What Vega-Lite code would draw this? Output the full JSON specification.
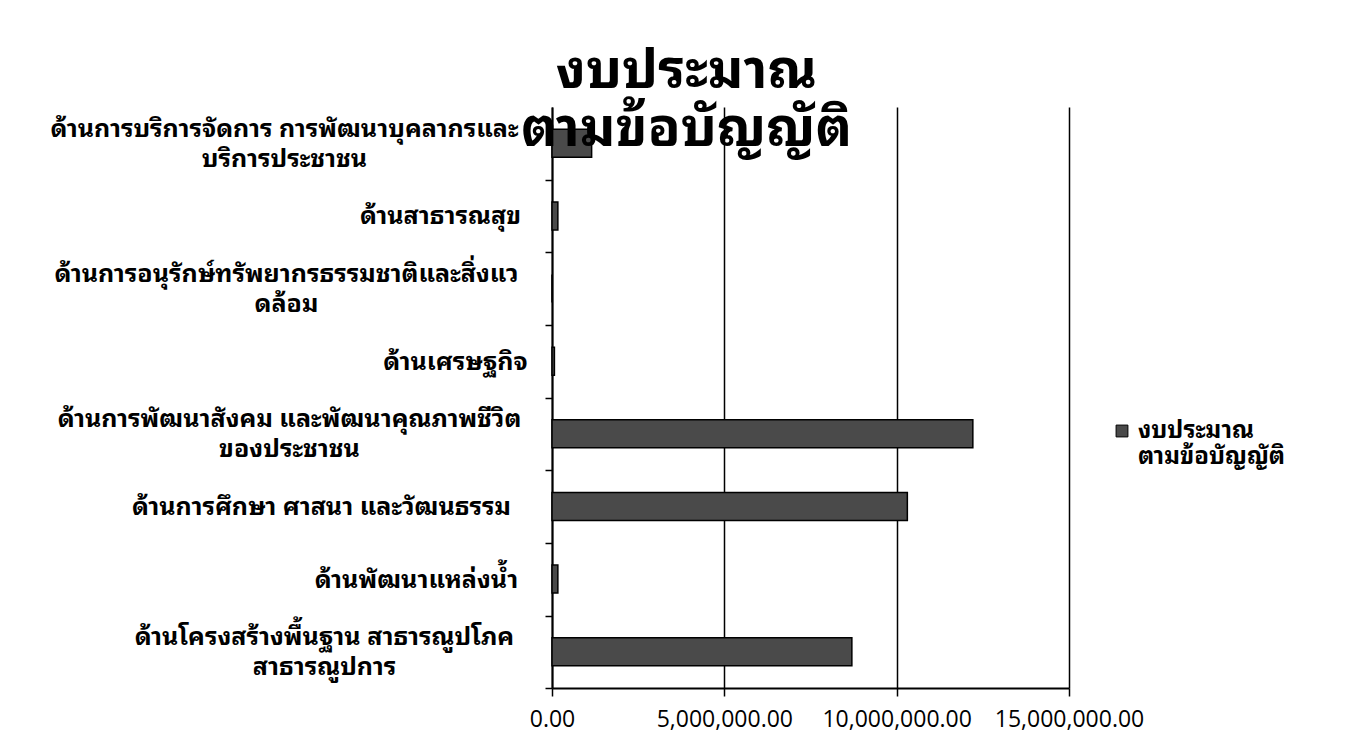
{
  "$schema": "https://vega.github.io/schema/vega-lite/v6.json",
  "width": 517,
  "height": 581,
  "autosize": "none",
  "padding": {"left": 552, "top": 107, "right": 301, "bottom": 54},
  "background": "white",
  "title": {
    "text": ["งบประมาณ", "ตามข้อบัญญัติ"],
    "font": "'Noto Sans Thai Looped', Tahoma, 'Noto Sans Thai', 'DejaVu Sans', sans-serif",
    "fontSize": 54,
    "fontWeight": "bold",
    "lineHeight": 58,
    "color": "black",
    "anchor": "middle",
    "frame": "group",
    "dx": -124,
    "offset": -50
  },
  "data": {
    "values": [
      {"category": "ด้านการบริการจัดการ การพัฒนาบุคลากรและ\nบริการประชาชน", "series": "งบประมาณตามข้อบัญญัติ", "budget": 1150000},
      {"category": "ด้านสาธารณสุข", "series": "งบประมาณตามข้อบัญญัติ", "budget": 170000},
      {"category": "ด้านการอนุรักษ์ทรัพยากรธรรมชาติและสิ่งแว\nดล้อม", "series": "งบประมาณตามข้อบัญญัติ", "budget": 0},
      {"category": "ด้านเศรษฐกิจ", "series": "งบประมาณตามข้อบัญญัติ", "budget": 70000},
      {"category": "ด้านการพัฒนาสังคม  และพัฒนาคุณภาพชีวิต\nของประชาชน", "series": "งบประมาณตามข้อบัญญัติ", "budget": 12210000},
      {"category": "ด้านการศึกษา ศาสนา  และวัฒนธรรม", "series": "งบประมาณตามข้อบัญญัติ", "budget": 10310000},
      {"category": "ด้านพัฒนาแหล่งน้ำ", "series": "งบประมาณตามข้อบัญญัติ", "budget": 170000},
      {"category": "ด้านโครงสร้างพื้นฐาน สาธารณูปโภค\nสาธารณูปการ", "series": "งบประมาณตามข้อบัญญัติ", "budget": 8700000}
    ]
  },
  "mark": {"type": "bar", "stroke": "black", "strokeWidth": 1.5},
  "encoding": {
    "y": {
      "field": "category",
      "type": "nominal",
      "sort": null,
      "scale": {"paddingInner": 0.616, "paddingOuter": 0.308},
      "axis": {
        "title": null,
        "labelExpr": "split(datum.label, '\\n')",
        "labelFont": "'Noto Sans Thai Looped', Tahoma, 'Noto Sans Thai', 'DejaVu Sans', sans-serif",
        "labelFontSize": 25,
        "labelFontWeight": "bold",
        "labelColor": "black",
        "labelLineHeight": 30,
        "labelLimit": 0,
        "labelAlign": "center",
        "labelBaseline": "middle",
        "labelPadding": 4,
        "encoding": {
          "labels": {
            "dx": {
              "condition": [
                {"test": "indexof(datum.value + '', 'บริการจัดการ') >= 0", "value": -257},
                {"test": "indexof(datum.value + '', 'สาธารณสุข') >= 0", "value": -101},
                {"test": "indexof(datum.value + '', 'อนุรักษ์') >= 0", "value": -255},
                {"test": "indexof(datum.value + '', 'เศรษฐกิจ') >= 0", "value": -86},
                {"test": "indexof(datum.value + '', 'พัฒนาสังคม') >= 0", "value": -252},
                {"test": "indexof(datum.value + '', 'ศึกษา') >= 0", "value": -220},
                {"test": "indexof(datum.value + '', 'แหล่งน้ำ') >= 0", "value": -125}
              ],
              "value": -217
            },
            "dy": {
              "condition": {"test": "indexof(datum.value + '', '\\n') >= 0", "value": -51.5},
              "value": -36.5
            }
          }
        },
        "domainColor": "black",
        "domainWidth": 2,
        "tickColor": "black",
        "tickWidth": 1.5,
        "tickSize": 7,
        "tickBand": "center",
        "tickOffset": 36.5
      }
    },
    "x": {
      "field": "budget",
      "type": "quantitative",
      "scale": {"domain": [0, 15000000], "nice": false},
      "axis": {
        "title": null,
        "values": [0, 5000000, 10000000, 15000000],
        "format": ",.2f",
        "labelFont": "'Open Sans', 'Liberation Sans', sans-serif",
        "labelFontSize": 23,
        "labelColor": "black",
        "labelPadding": 12,
        "labelFlush": false,
        "grid": true,
        "gridColor": "black",
        "gridWidth": 1.5,
        "domainColor": "black",
        "domainWidth": 2,
        "tickColor": "black",
        "tickWidth": 1.5,
        "tickSize": 8
      }
    },
    "color": {
      "field": "series",
      "type": "nominal",
      "scale": {"range": ["#4a4a4a"]},
      "legend": {
        "title": null,
        "orient": "none",
        "legendX": 558,
        "legendY": 312,
        "symbolType": "square",
        "symbolSize": 140,
        "symbolStrokeColor": "black",
        "symbolStrokeWidth": 1,
        "labelExpr": "['งบประมาณ', 'ตามข้อบัญญัติ']",
        "labelFont": "'Noto Sans Thai Looped', Tahoma, 'Noto Sans Thai', 'DejaVu Sans', sans-serif",
        "labelFontSize": 24,
        "labelFontWeight": "bold",
        "labelColor": "black",
        "labelLineHeight": 34,
        "labelLimit": 0
      }
    }
  },
  "config": {"view": {"stroke": null}}
}
